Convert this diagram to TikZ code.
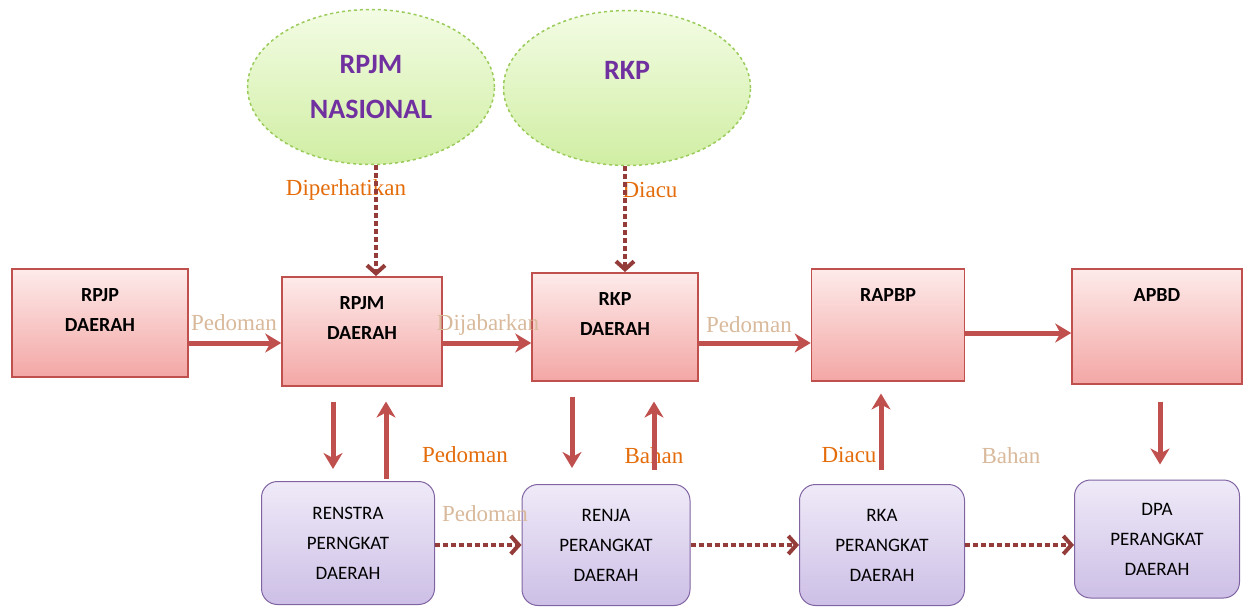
\documentclass[tikz,border=0pt]{standalone}
\usepackage{fontspec}
\setmainfont{Liberation Serif}
\newfontfamily\boxfont{Carlito}
\usetikzlibrary{arrows.meta,shapes.geometric}
\definecolor{boxred}{HTML}{C0504D}
\definecolor{pinktop}{HTML}{FDEBEA}
\definecolor{pinkbot}{HTML}{F3A7A5}
\definecolor{dotred}{HTML}{943C3A}
\definecolor{lavtop}{HTML}{EFEAF8}
\definecolor{lavbot}{HTML}{CDBFE6}
\definecolor{lavedge}{HTML}{8064A2}
\definecolor{greentop}{HTML}{F3FCE4}
\definecolor{greenbot}{HTML}{D0EEA3}
\definecolor{ovaledge}{HTML}{9BCB5A}
\definecolor{ovaltext}{HTML}{7030A0}
\definecolor{laborange}{HTML}{E46C0A}
\definecolor{labpale}{HTML}{D9B99B}
\begin{document}
\begin{tikzpicture}[x=1pt,y=1pt]
\tikzstyle{every node}+=[inner sep=0pt]
\tikzstyle{oval}=[ellipse, draw=ovaledge, dashed, line width=1.5pt, top color=greentop, bottom color=greenbot, minimum width=247pt, minimum height=155pt, align=center, text=ovaltext, font=\boxfont\bfseries\fontsize{28}{45}\selectfont]
\tikzstyle{topbox}=[draw=boxred, line width=1.5pt, top color=pinktop, bottom color=pinkbot, anchor=north, inner ysep=6pt, text height=57pt, text depth=39pt, align=center, font=\boxfont\bfseries\fontsize{20}{30}\selectfont]
\tikzstyle{botbox}=[draw=lavedge, line width=1pt, rounded corners=16pt, top color=lavtop, bottom color=lavbot, align=center, font=\boxfont\fontsize{19}{30}\selectfont]
\tikzstyle{arr}=[draw=boxred, line width=5pt, -{Stealth[length=16pt,width=19pt,inset=5pt]}]
\tikzstyle{dotarr}=[draw=dotred, line width=4pt, dash pattern=on 5pt off 3pt, -{Straight Barb[length=8pt,width=18pt,line width=4pt]}]
\tikzstyle{lab}=[text=laborange, font=\fontsize{23}{23}\selectfont]
\tikzstyle{labfaint}=[text=labpale, font=\fontsize{23}{23}\selectfont]
\useasboundingbox (0,0) rectangle (1244,-607);
\node [oval] (rpjmnas) at (371,-87) {RPJM\\NASIONAL};
\node [oval, text depth=36pt] (rkpnas) at (627,-88) {RKP};
\node [topbox, minimum width=176pt] (rpjp) at (100,-268) {RPJP\\DAERAH};
\node [topbox, minimum width=160pt, text depth=40pt] (rpjm) at (362,-276) {RPJM\\DAERAH};
\node [topbox, minimum width=166pt] (rkp) at (615,-272) {RKP\\DAERAH};
\node [topbox, minimum width=153pt, text height=27pt, text depth=73pt] (rapbp) at (888,-268) {RAPBP};
\node [topbox, minimum width=170pt, text height=27pt, text depth=76pt] (apbd) at (1157,-268) {APBD};
\node [botbox, minimum width=173pt, minimum height=123pt] (renstra) at (348,-543) {RENSTRA\\PERNGKAT\\DAERAH};
\node [botbox, minimum width=168pt, minimum height=121pt] (renja) at (606,-545) {RENJA\\PERANGKAT\\DAERAH};
\node [botbox, minimum width=165pt, minimum height=121pt] (rka) at (882,-545) {RKA\\PERANGKAT\\DAERAH};
\node [botbox, minimum width=165pt, minimum height=118pt] (dpa) at (1157,-539) {DPA\\PERANGKAT\\DAERAH};
\node [lab] (diperhatikan) at (346,-190) {Diperhatikan};
\node [lab] (diacu) at (650,-190) {Diacu};
\node [labfaint] (pedoman) at (234,-323) {Pedoman};
\node [labfaint] (dijabarkan) at (488,-325) {Dijabarkan};
\node [labfaint] (pedomanb) at (749,-325) {Pedoman};
\node [lab] (pedomanc) at (465,-455) {Pedoman};
\node [lab] (bahan) at (654,-456) {Bahan};
\node [lab] (diacub) at (849,-455) {Diacu};
\node [labfaint] (bahanb) at (1011,-456) {Bahan};
\node [labfaint] (pedomand) at (485,-514) {Pedoman};
\draw [dotarr] (rpjmnas.south -| 376,0) -- (rpjm.north -| 376,0);
\draw [dotarr] (rkpnas.south -| 625,0) -- (rkp.north -| 625,0);
\draw [arr] (rpjp.east |- 0,-343) -- (rpjm.west |- 0,-343);
\draw [arr] (rpjm.east |- 0,-343) -- (rkp.west |- 0,-343);
\draw [arr] (rkp.east |- 0,-343) -- (rapbp.west |- 0,-343);
\draw [arr] (rapbp.east |- 0,-333) -- (apbd.west |- 0,-333);
\draw [arr, shorten <=15pt, shorten >=12pt] (rpjm.south -| 333,0) -- (renstra.north -| 333,0);
\draw [arr, shorten <=2pt, shorten >=15pt] (renstra.north -| 386,0) -- (rpjm.south -| 386,0);
\draw [arr, shorten <=15pt, shorten >=16pt] (rkp.south -| 572,0) -- (renja.north -| 572,0);
\draw [arr, shorten <=14pt, shorten >=20pt] (renja.north -| 654,0) -- (rkp.south -| 654,0);
\draw [arr, shorten <=14pt, shorten >=12pt] (rka.north -| 881,0) -- (rapbp.south -| 881,0);
\draw [arr, shorten <=17pt, shorten >=15pt] (apbd.south -| 1160,0) -- (dpa.north -| 1160,0);
\draw [dotarr] (renstra.east |- 0,-545) -- (renja.west |- 0,-545);
\draw [dotarr] (renja.east |- 0,-545) -- (rka.west |- 0,-545);
\draw [dotarr] (rka.east |- 0,-545) -- (dpa.west |- 0,-545);
\end{tikzpicture}
\end{document}
